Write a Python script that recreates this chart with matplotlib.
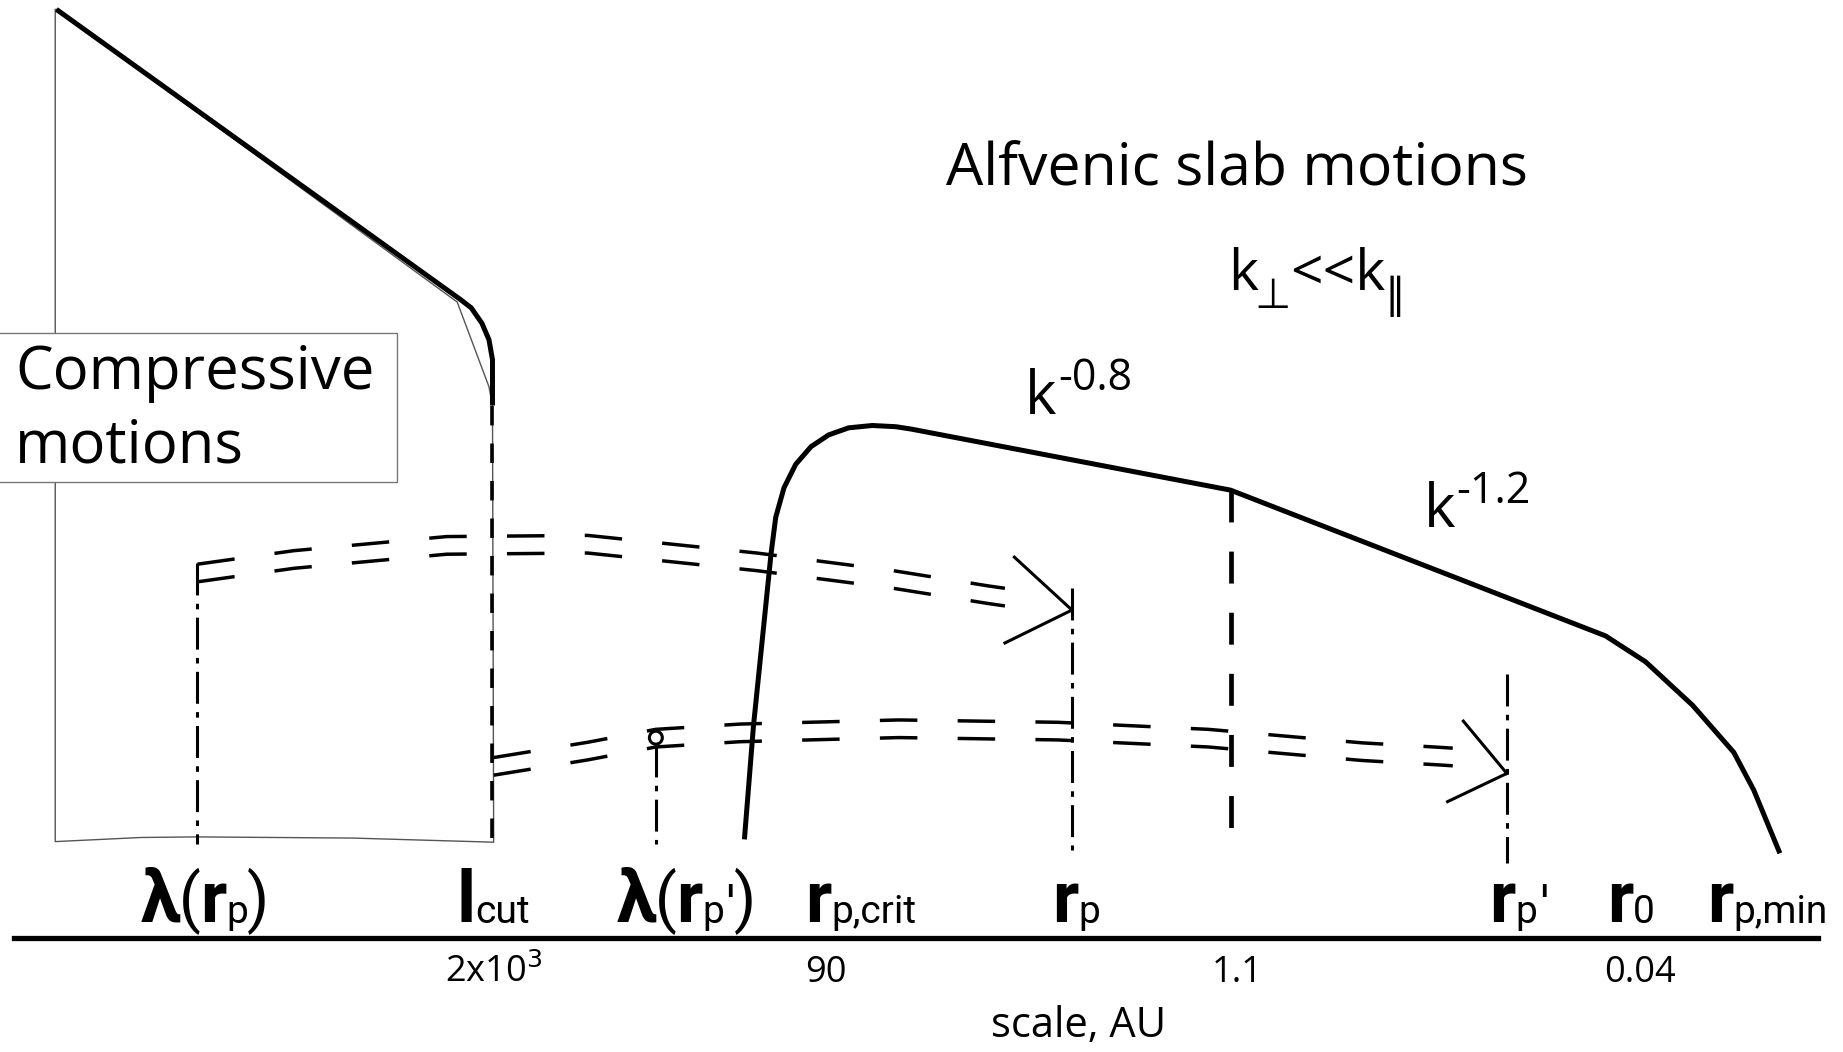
import numpy as np
import matplotlib.pyplot as plt
from matplotlib.patches import Circle, Rectangle

plt.rcParams['font.family'] = ['Open Sans', 'DejaVu Sans']
plt.rcParams['lines.scale_dashes'] = False

# sketch coordinates, picture units (x to the right, y downwards)
# compressive spectrum (thick) and its thin outline
comp_x = [48, 392, 401, 410, 416, 419, 419]
comp_y = [8, 255, 262, 275, 289, 306, 345]
frame_x = [47, 47, 120, 167, 300, 420, 419, 416, 389, 48]
frame_y = [8, 716, 712.5, 712, 713, 716.5, 345, 329, 257, 8]

# alfvenic spectrum
alf_x = [633.5, 641, 650, 656, 660, 667, 677, 690, 705, 722, 742, 762, 775,
         1047, 1366, 1400, 1440, 1475, 1492, 1513.5]
alf_y = [712, 618, 530, 471, 440, 415, 395, 380, 370, 364, 362, 363, 365,
         417, 541, 563, 600, 640, 672, 724]

# the two double dashed arrows (centre lines)
up_x = [168, 250, 380, 500, 644, 760, 841, 855]
up_y = [487.5, 476, 464, 463, 478, 493, 506, 508]
up_tip = (912, 519)
up_arms = [(863, 474), (855, 547)]
lo_x = [420, 500, 558, 630, 765, 900, 1028, 1159, 1220, 1236]
lo_y = [652, 639, 628, 623.5, 620, 622, 628, 639.5, 643, 644]
lo_tip = (1282, 658)
lo_arms = [(1245, 613.5), (1231.6, 682)]

# dash-dot markers: x, top, bottom
marks_x = [168, 558, 912, 1282]
marks_top = [479, 634, 500, 573]
marks_bot = [718, 718, 723, 734]
circle_xy = (558, 627.6)

# vertical dashed lines
lcut_x, lcut_top, lcut_bot = 419, 345, 714
brk_x, brk_top, brk_bot = 1047, 417, 710

axis_y = 798
axis_x = [12, 1547]

# scale labels: pieces of (text, kind)
labels = [
    [('λ', 'main'), ('(', 'par'), ('r', 'main'), ('p', 'sub'), (')', 'par')],
    [('l', 'main'), ('cut', 'sub')],
    [('λ', 'main'), ('(', 'par'), ('r', 'main'), ('p', 'sub'), ("'", 'apo'), (')', 'par')],
    [('r', 'main'), ('p,crit', 'sub')],
    [('r', 'main'), ('p', 'sub')],
    [('r', 'main'), ('p', 'sub'), ("'", 'apo')],
    [('r', 'main'), ('0', 'sub')],
    [('r', 'main'), ('p,min', 'sub')],
]
labels_x = [120, 388, 525, 685, 895, 1267, 1367, 1452]
labels_y = 784
ticks = [r'2x10$^3$', '90', '1.1', '0.04']
ticks_x = [420, 703, 1053, 1395]

fig = plt.figure(figsize=(18.43, 10.52), dpi=100)
ax = fig.add_axes([0, 0, 1, 1])
ax.set_xlim(0, 1568)
ax.set_ylim(895, 0)
ax.axis('off')

ax.plot(frame_x, frame_y, color='#555555', lw=1.0)
ax.plot(comp_x, comp_y, color='black', lw=3.6, solid_capstyle='butt')
ax.plot(alf_x, alf_y, color='black', lw=3.6, solid_joinstyle='round')

ax.plot([lcut_x, lcut_x], [lcut_top, lcut_bot], color='black', lw=2.6,
        linestyle=(0, (14, 13)))
ax.plot([brk_x, brk_x], [brk_top, brk_bot], color='black', lw=3.4,
        linestyle=(0, (23, 21)))

for x, t, b in zip(marks_x, marks_top, marks_bot):
    ax.plot([x, x], [t, b], color='black', lw=2.2, linestyle=(0, (23, 6, 4, 6)))
ax.add_patch(Circle(circle_xy, 5.5, fill=False, edgecolor='black', lw=2.2))

for cx, cy, tip, arms in [(up_x, up_y, up_tip, up_arms), (lo_x, lo_y, lo_tip, lo_arms)]:
    for off in (-7.5, 7.5):
        ax.plot(cx, np.array(cy) + off, color='black', lw=2.5,
                linestyle=(0, (27, 29)), dash_capstyle='butt')
    for a in arms:
        ax.plot([a[0], tip[0]], [a[1], tip[1]], color='black', lw=2.2)

ax.plot(axis_x, [axis_y, axis_y], color='black', lw=3.8)


def chain(x, y, pieces):
    # pieces: (text, fontsize, weight, family, dx, dy) placed one after another
    prev = None
    for s, size, weight, fam, dx, dy in pieces:
        if prev is None:
            prev = ax.text(x, y, s, fontsize=size, fontweight=weight, family=fam,
                           va='baseline', ha='left')
        else:
            prev = ax.annotate(s, xy=(1, 0), xycoords=prev, xytext=(dx, dy),
                               textcoords='offset points', fontsize=size,
                               fontweight=weight, family=fam, va='bottom', ha='left')


styles = {'main': (52, 'bold', ['Roboto'], -1, 0),
          'sub': (28, 'normal', ['Roboto'], 0, 4),
          'par': (46, 'normal', ['Roboto'], -1, 1),
          'apo': (40, 'normal', ['Roboto'], 1, 0)}
for pieces, x in zip(labels, labels_x):
    prev_kind = None
    seq = []
    for s, kind in pieces:
        size, weight, fam, dx, dy = styles[kind]
        # undo the previous vertical offset so baselines stay put
        if prev_kind is not None:
            dy = dy - styles[prev_kind][4]
        seq.append((s, size, weight, fam, dx, dy))
        prev_kind = kind
    chain(x, labels_y, seq)

for s, x in zip(ticks, ticks_x):
    ax.text(x, 828, s, fontsize=26, va='center', ha='center')
ax.text(918, 873, 'scale, AU', fontsize=30, va='center', ha='center')

# titles and slopes
ax.add_patch(Rectangle((-2, 283), 340, 127, facecolor='white',
                       edgecolor='#777777', lw=1.0, zorder=3))
ax.text(13, 317, 'Compressive', fontsize=43, va='center', ha='left', zorder=4)
ax.text(13, 380, 'motions', fontsize=43, va='center', ha='left', zorder=4)
ax.text(805, 145, 'Alfvenic slab motions', fontsize=42.5, va='center', ha='left')

chain(1045, 247, [('k', 41, 'normal', ['Open Sans'], 0, 0),
                  ('⊥', 30, 'normal', ['DejaVu Sans'], -3, -9),
                  ('<<k', 41, 'normal', ['Open Sans'], 0, 9),
                  ('∥', 30, 'normal', ['DejaVu Sans'], -1, -9)])
for (kx, ky), sup in [((872, 352), '-0.8'), ((1211, 448), '-1.2')]:
    k = ax.text(kx, ky, 'k', fontsize=43, va='baseline', ha='left')
    ax.annotate(sup, xy=(1, 1), xycoords=k, xytext=(1, 8), textcoords='offset points',
                fontsize=31, va='top', ha='left')

fig.savefig('out.png', dpi=100, facecolor='white')
